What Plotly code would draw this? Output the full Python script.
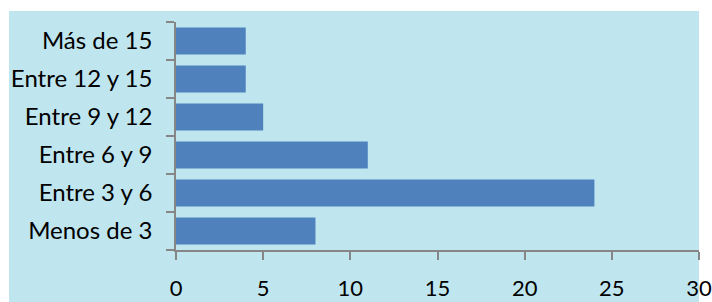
import plotly.graph_objects as go

categories = ["Menos de 3", "Entre 3 y 6", "Entre 6 y 9", "Entre 9 y 12", "Entre 12 y 15", "Más de 15"]
values = [8, 24, 11, 5, 4, 4]
x_ticks = [0, 5, 10, 15, 20, 25, 30]

W, H = 712, 302
L, R, T, B = 176, 13, 22, 52
pw = W - L - R
ph = H - T - B

fig = go.Figure(go.Bar(
    x=values, y=categories, orientation="h",
    marker=dict(color="#4f81bd", line=dict(width=0)),
    width=0.71,
))

# textured-water background approximated by a flat light blue panel
fig.add_shape(type="rect", xref="paper", yref="paper", layer="below",
              x0=(9 - L) / pw, x1=(699 - L) / pw,
              y0=(H - B - H) / ph - 0.01, y1=(H - B - 11) / ph,
              fillcolor="#bfe6ef", line=dict(width=0))

fig.update_layout(
    width=W, height=H,
    margin=dict(l=L, r=R, t=T, b=B, pad=0, autoexpand=False),
    paper_bgcolor="white", plot_bgcolor="rgba(0,0,0,0)",
    showlegend=False,
    font=dict(family="Lato, Carlito, Calibri, sans-serif", color="black"),
    xaxis=dict(range=[0, 30], tickvals=x_ticks, ticktext=[str(v) for v in x_ticks],
               automargin=False,
               showgrid=False, zeroline=False, showline=True, linecolor="#868686", linewidth=1.5,
               ticks="outside", ticklen=8, tickcolor="#868686", tickwidth=1.5,
               tickfont=dict(size=22), ticklabelstandoff=10),
    yaxis=dict(type="category", categoryorder="array", categoryarray=categories,
               automargin=False,
               showgrid=False, zeroline=False, showline=True, linecolor="#868686", linewidth=1.5,
               ticks="outside", tickson="boundaries", ticklen=8, tickcolor="#868686", tickwidth=1.5,
               tickfont=dict(size=24), ticklabelstandoff=17),
)

fig.write_html("out.html", config={"displayModeBar": False},
               post_script="document.body.style.margin='0px';document.body.style.overflow='hidden';")
